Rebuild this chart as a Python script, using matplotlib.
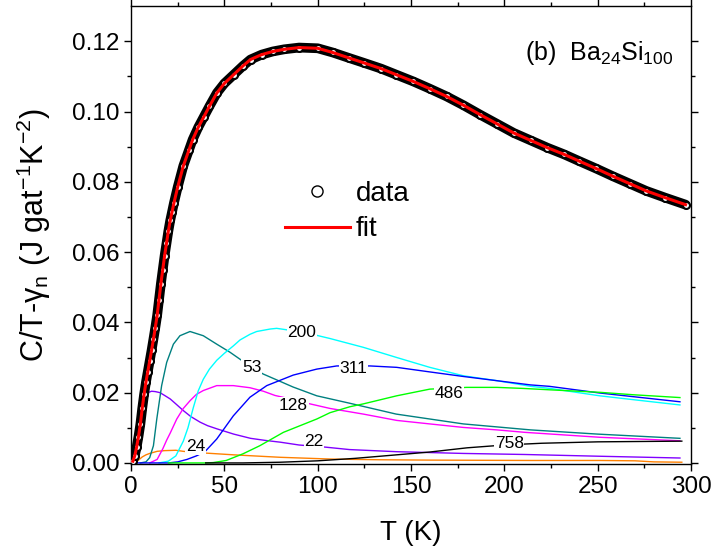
import matplotlib
matplotlib.use("Agg")
import matplotlib.pyplot as plt
from matplotlib.lines import Line2D

plt.rcParams['font.family'] = ['Liberation Sans', 'DejaVu Sans']
plt.rcParams['mathtext.fontset'] = 'custom'
plt.rcParams['mathtext.rm'] = 'Liberation Sans'

# measured C/T - gamma_n of Ba24Si100
T_data = [1, 2, 3, 4, 5, 6, 7, 8, 9, 10, 11, 12, 13, 14, 15, 16, 17, 18, 19, 20,
          21, 22, 23, 25, 28, 31, 33, 36, 39, 42, 46, 50, 55, 60, 64, 70, 76, 82,
          90, 100, 108, 117, 125, 134, 142, 151, 160, 169, 178, 187, 196, 205,
          214, 223, 232, 240, 249, 258, 267, 276, 286, 297]
C_data = [0.0005, 0.002, 0.0045, 0.0075, 0.011, 0.0155, 0.0195, 0.023, 0.026,
          0.029, 0.032, 0.0352, 0.0385, 0.042, 0.0465, 0.051, 0.055, 0.059,
          0.0625, 0.066, 0.069, 0.0715, 0.074, 0.0785, 0.0845, 0.089, 0.092,
          0.0955, 0.0985, 0.1015, 0.1053, 0.108, 0.1105, 0.113, 0.1148, 0.1162,
          0.1171, 0.1177, 0.1182, 0.1180, 0.1168, 0.1152, 0.1138, 0.1122, 0.1105,
          0.1086, 0.1065, 0.1043, 0.1018, 0.0991, 0.0965, 0.0939, 0.0918, 0.0897,
          0.0878, 0.0859, 0.0838, 0.0816, 0.0795, 0.0774, 0.0755, 0.0735]

# fit
T_fit = T_data
C_fit = C_data

# Einstein components, label = theta_E (K)
T_22 = [1, 3, 5, 7, 9, 11, 13, 15.5, 18, 21, 24, 28, 32, 37, 41, 46, 55, 64, 72,
        80, 90, 104, 117, 142, 178, 211, 251, 294]
C_22 = [0.0, 0.003, 0.011, 0.0175, 0.020, 0.0204, 0.0203, 0.0200, 0.0192, 0.0182,
        0.0168, 0.0149, 0.0132, 0.0116, 0.0106, 0.0097, 0.0082, 0.0070, 0.0064,
        0.0059, 0.0051, 0.0045, 0.0038, 0.0032, 0.0027, 0.0024, 0.0019, 0.0014]

T_24 = [2, 4, 6, 8, 10, 14, 18, 24, 28, 34, 40, 55, 80, 107, 133, 160, 214, 251,
        270, 280, 295]
C_24 = [0.0, 0.0008, 0.0017, 0.0023, 0.0027, 0.0033, 0.0035, 0.0036, 0.0033,
        0.0030, 0.0028, 0.0023, 0.0016, 0.0011, 0.0009, 0.0008, 0.0007, 0.0007,
        0.0006, 0.0003, 0.0002]

T_53 = [5, 8, 10, 12, 13.8, 16.4, 19.1, 22.7, 26.2, 31.6, 38.7, 45.9, 53, 58.4,
        64.6, 70.8, 86.8, 99.5, 117, 142, 178, 214, 250, 294]
C_53 = [0.0, 0.0003, 0.0015, 0.0049, 0.0125, 0.022, 0.0286, 0.0338, 0.0362,
        0.0374, 0.0362, 0.0338, 0.0315, 0.0295, 0.0272, 0.0253, 0.0216, 0.0191,
        0.0170, 0.0139, 0.0111, 0.0094, 0.0082, 0.0070]

T_128 = [10, 14, 17, 19.1, 21, 24.5, 28, 31.6, 35, 38.7, 45.9, 54.8, 63.7, 70.9,
         77.1, 87, 95.9, 106.6, 124.4, 142.3, 160, 178, 196, 211, 251, 294]
C_128 = [0.0, 0.001, 0.004, 0.0065, 0.0085, 0.0125, 0.0155, 0.0177, 0.0195,
         0.0206, 0.0220, 0.0220, 0.0214, 0.0204, 0.0192, 0.0180, 0.0168, 0.0155,
         0.0139, 0.0121, 0.0111, 0.0101, 0.0094, 0.0087, 0.0073, 0.0063]

T_200 = [15, 20, 24, 28, 30.5, 33.4, 36, 38.7, 42, 45.9, 50, 54.8, 58.4, 63.7,
         67.3, 74.5, 78, 91, 100.3, 106.6, 124.4, 142.3, 160, 178, 196, 214,
         224.4, 251, 269, 294]
C_200 = [0.0, 0.0005, 0.002, 0.0062, 0.010, 0.0158, 0.0205, 0.0238, 0.0267,
         0.0292, 0.0312, 0.0333, 0.0350, 0.0366, 0.0374, 0.0381, 0.0383, 0.0373,
         0.0362, 0.0354, 0.0329, 0.0300, 0.0272, 0.0248, 0.0234, 0.0218, 0.0212,
         0.0191, 0.0180, 0.0165]

T_311 = [0, 20, 25, 30, 35, 39.6, 45.9, 54.8, 63.7, 72.7, 86.9, 99.5, 110.2, 128,
         142.3, 160, 178, 196, 214, 224, 251, 294]
C_311 = [0.0, 0.0, 0.0003, 0.001, 0.002, 0.0032, 0.0068, 0.0134, 0.0187, 0.0220,
         0.0250, 0.0267, 0.0276, 0.0276, 0.0272, 0.0259, 0.0246, 0.0234, 0.0222,
         0.0218, 0.0199, 0.0174]

T_486 = [20, 40, 44, 51, 60, 69, 81.6, 99.5, 106.6, 117.3, 124.4, 142.3, 160,
         179.8, 196, 210, 224.4, 251, 269, 294]
C_486 = [0.0, 0.0, 0.0001, 0.0007, 0.0026, 0.0049, 0.0087, 0.0125, 0.0143,
         0.0160, 0.0168, 0.0191, 0.0210, 0.0215, 0.0215, 0.0212, 0.0208, 0.0201,
         0.0194, 0.0186]

T_758 = [40, 60, 80, 100, 120, 140, 160, 180, 200, 220, 250, 295]
C_758 = [0.0, 0.0, 0.0002, 0.0006, 0.0013, 0.0022, 0.0031, 0.0043, 0.0051,
         0.0056, 0.0060, 0.0062]

components = [
    (T_22, C_22, '#8000ff', '22', 98, 0.0060),
    (T_24, C_24, '#ff8000', '24', 34.6, 0.0046),
    (T_53, C_53, '#008080', '53', 64.6, 0.0272),
    (T_128, C_128, '#ff00ff', '128', 87, 0.0163),
    (T_200, C_200, '#00ffff', '200', 91.4, 0.0371),
    (T_311, C_311, '#0000ff', '311', 119, 0.0270),
    (T_486, C_486, '#00ff00', '486', 170.3, 0.0198),
    (T_758, C_758, '#000000', '758', 202.6, 0.0054),
]

fig = plt.figure(figsize=(7.14, 5.55), dpi=100)
ax = fig.add_axes([0.1835, 0.164, 0.7845, 0.825])

for T, C, col, lab, tx, ty in components:
    ax.plot(T, C, color=col, lw=1.0, zorder=2)
    ax.text(tx, ty, lab, fontsize=12.5, ha='center', va='center', zorder=2.5,
            bbox=dict(facecolor='white', edgecolor='none', pad=0.5))

# data: dense open circles -> dark band
ax.plot(T_data, C_data, color='k', lw=7, zorder=3, solid_capstyle='round')
ax.plot(T_data, C_data, 'o', mfc='white', mec='k', ms=5, mew=1.5, zorder=3.2)
ax.plot(T_fit, C_fit, color='#ff0000', lw=2.2, zorder=4)

handles = [Line2D([], [], ls='none', marker='o', mfc='white', mec='k', ms=8, mew=1),
           Line2D([], [], color='#ff0000', lw=2.2)]
ax.legend(handles, ['data', 'fit'], loc='center left', bbox_to_anchor=(0.23, 0.551),
          frameon=False, fontsize=20, handlelength=2.35, handletextpad=0.2,
          labelspacing=0.33)

ax.text(0.968, 0.897, '(b)  Ba$_{\\mathregular{24}}$Si$_{\\mathregular{100}}$',
        transform=ax.transAxes, ha='right', va='center', fontsize=18)

ax.set_xlim(0, 300)
ax.set_ylim(-0.0003, 0.130)
ax.set_xticks([0, 50, 100, 150, 200, 250, 300])
ax.set_xticks(range(25, 300, 50), minor=True)
ax.set_yticks([0.00, 0.02, 0.04, 0.06, 0.08, 0.10, 0.12])
ax.set_yticks([0.01, 0.03, 0.05, 0.07, 0.09, 0.11], minor=True)
ax.set_yticklabels(['0.00', '0.02', '0.04', '0.06', '0.08', '0.10', '0.12'])
ax.tick_params(which='both', direction='out', top=True, right=True,
               labeltop=False, labelright=False, labelsize=17.5, width=1)
ax.tick_params(which='major', length=5)
ax.tick_params(which='minor', length=3)
for s in ax.spines.values():
    s.set_linewidth(1)

ax.set_xlabel('T (K)', fontsize=20)
ax.set_ylabel('C/T-\u03b3$_\\mathregular{n}$ (J gat$^\\mathregular{-1}$K$^\\mathregular{-2}$)',
              fontsize=22)
ax.xaxis.set_label_coords(0.5, -0.122)
ax.yaxis.set_label_coords(-0.139, 0.5)

fig.savefig('out.png', dpi=100)
